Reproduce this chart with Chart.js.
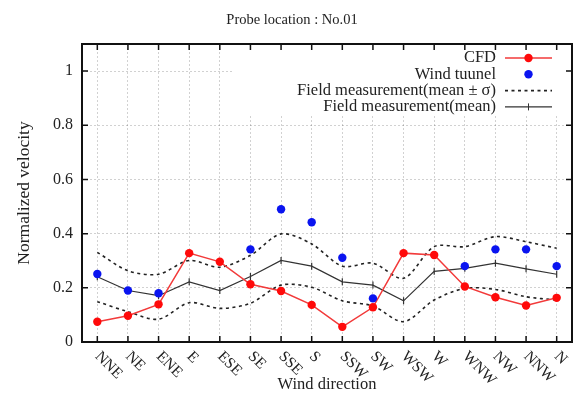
<!DOCTYPE html>
<html>
<head>
<meta charset="utf-8">
<script src="https://cdn.jsdelivr.net/npm/chart.js@4.4.1/dist/chart.umd.min.js"></script>
<style>
  html, body { margin: 0; padding: 0; background: #fff; }
  #wrap { width: 585px; height: 398px; }
</style>
</head>
<body>
<div id="wrap"><canvas id="c" width="585" height="398"></canvas></div>
<script>
// Wind directions (x categories)
const directions = ['NNE', 'NE', 'ENE', 'E', 'ESE', 'SE', 'SSE', 'S', 'SSW', 'SW', 'WSW', 'W', 'WNW', 'NW', 'NNW', 'N'];

// Normalized velocity per direction
const cfd        = [0.075, 0.097, 0.139, 0.328, 0.296, 0.213, 0.188, 0.137, 0.056, 0.128, 0.328, 0.321, 0.205, 0.165, 0.135, 0.163];
const windTunnel = [0.251, 0.190, 0.180, null, null, 0.342, 0.490, 0.442, 0.311, 0.161, null, null, 0.280, 0.342, 0.342, 0.280];
const fieldMean  = [0.241, 0.190, 0.171, 0.222, 0.190, 0.242, 0.301, 0.280, 0.222, 0.210, 0.152, 0.261, 0.272, 0.291, 0.270, 0.250];
const fieldUpper = [0.331, 0.263, 0.250, 0.301, 0.276, 0.320, 0.399, 0.362, 0.280, 0.291, 0.235, 0.352, 0.352, 0.389, 0.370, 0.346];
const fieldLower = [0.149, 0.112, 0.084, 0.145, 0.124, 0.143, 0.210, 0.202, 0.152, 0.133, 0.075, 0.155, 0.198, 0.194, 0.167, 0.155];

// Y axis tick values
const yTicks = [0, 0.2, 0.4, 0.6, 0.8, 1];

const FONT = "'Liberation Serif', 'Times New Roman', serif";
const TEXT = '#222';

// Legend rows, by dataset index
const legendOrder = [1, 0, 3, 2];

const insetLegend = {
  id: 'insetLegend',
  beforeDatasetsDraw(chart) {
    const { ctx, chartArea: a } = chart;
    const boxLeft = a.left + 150, boxBottom = a.top + 70;
    ctx.save();
    ctx.fillStyle = '#fff';
    ctx.fillRect(boxLeft, a.top + 1, a.right - boxLeft, boxBottom - a.top);
    ctx.font = '16.5px ' + FONT;
    ctx.textAlign = 'right';
    ctx.textBaseline = 'middle';
    const textX = a.right - 76, s0 = a.right - 67, s1 = a.right - 20, sm = (s0 + s1) / 2;
    legendOrder.forEach((idx, i) => {
      const ds = chart.data.datasets[idx];
      const y = a.top + 14 + i * 16.3;
      ctx.fillStyle = TEXT;
      ctx.fillText(ds.label, textX, y);
      if (ds.showLine !== false) {
        ctx.save();
        ctx.strokeStyle = ds.borderColor;
        ctx.lineWidth = ds.borderWidth;
        ctx.setLineDash(ds.borderDash || []);
        ctx.beginPath();
        ctx.moveTo(s0, y);
        ctx.lineTo(s1, y);
        ctx.stroke();
        ctx.restore();
      }
      if (ds.pointRadius > 0) {
        ctx.save();
        ctx.fillStyle = ds.pointBackgroundColor;
        ctx.strokeStyle = ds.pointBorderColor;
        Chart.helpers.drawPoint(ctx, {
          pointStyle: ds.pointStyle || 'circle',
          radius: ds.pointRadius,
          rotation: ds.rotation || 0,
          borderWidth: ds.pointBorderWidth
        }, sm, y);
        ctx.restore();
      }
    });
    ctx.restore();
  }
};

const frame = {
  id: 'frame',
  afterDraw(chart) {
    const { ctx, chartArea: a, scales } = chart;
    const xS = scales.x, yS = scales.y;
    ctx.save();
    // inward tick marks on all four sides
    ctx.strokeStyle = '#111';
    ctx.lineWidth = 1.5;
    ctx.beginPath();
    yTicks.forEach(v => {
      const y = yS.getPixelForValue(v);
      ctx.moveTo(a.left, y); ctx.lineTo(a.left + 6, y);
      ctx.moveTo(a.right, y); ctx.lineTo(a.right - 6, y);
    });
    directions.forEach((d, i) => {
      const x = xS.getPixelForValue(i);
      ctx.moveTo(x, a.top); ctx.lineTo(x, a.top + 6);
      ctx.moveTo(x, a.bottom); ctx.lineTo(x, a.bottom - 6);
    });
    ctx.stroke();
    // plot border
    ctx.lineWidth = 2;
    ctx.strokeRect(a.left, a.top, a.right - a.left, a.bottom - a.top);
    // slanted direction labels
    ctx.fillStyle = TEXT;
    ctx.font = '15.5px ' + FONT;
    ctx.textAlign = 'left';
    ctx.textBaseline = 'middle';
    directions.forEach((d, i) => {
      const x = xS.getPixelForValue(i);
      ctx.save();
      ctx.translate(x, a.bottom + 12);
      ctx.rotate(Math.PI / 4);
      ctx.fillText(d, 0, 0);
      ctx.restore();
    });
    ctx.restore();
  }
};

new Chart(document.getElementById('c'), {
  type: 'line',
  data: {
    labels: directions,
    datasets: [
      {
        label: 'Wind tuunel',
        data: windTunnel,
        showLine: false,
        pointStyle: 'circle',
        pointRadius: 4.2,
        pointBackgroundColor: '#0a14f0',
        pointBorderColor: '#0a14f0',
        pointBorderWidth: 0,
        borderColor: '#0a14f0'
      },
      {
        label: 'CFD',
        data: cfd,
        borderColor: '#f23a3a',
        borderWidth: 1.5,
        pointStyle: 'circle',
        pointRadius: 4.2,
        pointBackgroundColor: '#ff0a0a',
        pointBorderColor: '#ff0a0a',
        pointBorderWidth: 0,
        tension: 0
      },
      {
        label: 'Field measurement(mean)',
        data: fieldMean,
        borderColor: '#333',
        borderWidth: 1.2,
        pointStyle: 'line',
        rotation: 90,
        pointRadius: 3.5,
        pointBackgroundColor: '#333',
        pointBorderColor: '#333',
        pointBorderWidth: 1.2,
        tension: 0
      },
      {
        label: 'Field measurement(mean \u00b1 \u03c3)',
        data: fieldUpper,
        borderColor: '#222',
        borderWidth: 1.6,
        borderDash: [3, 3.5],
        pointRadius: 0,
        tension: 0.3
      },
      {
        label: 'Field measurement(mean \u00b1 \u03c3)',
        data: fieldLower,
        borderColor: '#222',
        borderWidth: 1.6,
        borderDash: [3, 3.5],
        pointRadius: 0,
        tension: 0.3
      }
    ]
  },
  options: {
    responsive: false,
    animation: false,
    events: [],
    layout: { padding: { left: 12, right: 13, top: 0, bottom: 0 } },
    plugins: {
      legend: { display: false },
      tooltip: { enabled: false },
      title: {
        display: true,
        text: 'Probe location : No.01',
        color: TEXT,
        font: { family: FONT, size: 14.5, weight: 'normal' },
        padding: { top: 11.3, bottom: 15.3 }
      }
    },
    scales: {
      x: {
        type: 'category',
        offset: true,
        grid: { offset: false, color: 'rgba(0,0,0,0.18)', lineWidth: 1, drawTicks: false },
        border: { display: false, dash: [2, 2] },
        ticks: { display: false },
        title: {
          display: true,
          text: 'Wind direction',
          color: TEXT,
          font: { family: FONT, size: 16.5 },
          padding: { top: 0, bottom: 3 }
        },
        afterFit(scale) { scale.height = 56; }
      },
      y: {
        min: 0,
        max: 1.1,
        afterBuildTicks(scale) { scale.ticks = yTicks.map(v => ({ value: v })); },
        grid: { color: 'rgba(0,0,0,0.18)', lineWidth: 1, drawTicks: false },
        border: { display: false, dash: [2, 2] },
        ticks: {
          color: TEXT,
          font: { family: FONT, size: 16 },
          padding: 9,
          callback: v => String(Number(v.toFixed(1)))
        },
        title: {
          display: true,
          text: 'Normalized velocity',
          color: TEXT,
          font: { family: FONT, size: 17.5 },
          padding: { top: 1.5, bottom: 0 }
        },
        afterFit(scale) { scale.width = 70; }
      }
    }
  },
  plugins: [insetLegend, frame]
});
</script>
</body>
</html>
